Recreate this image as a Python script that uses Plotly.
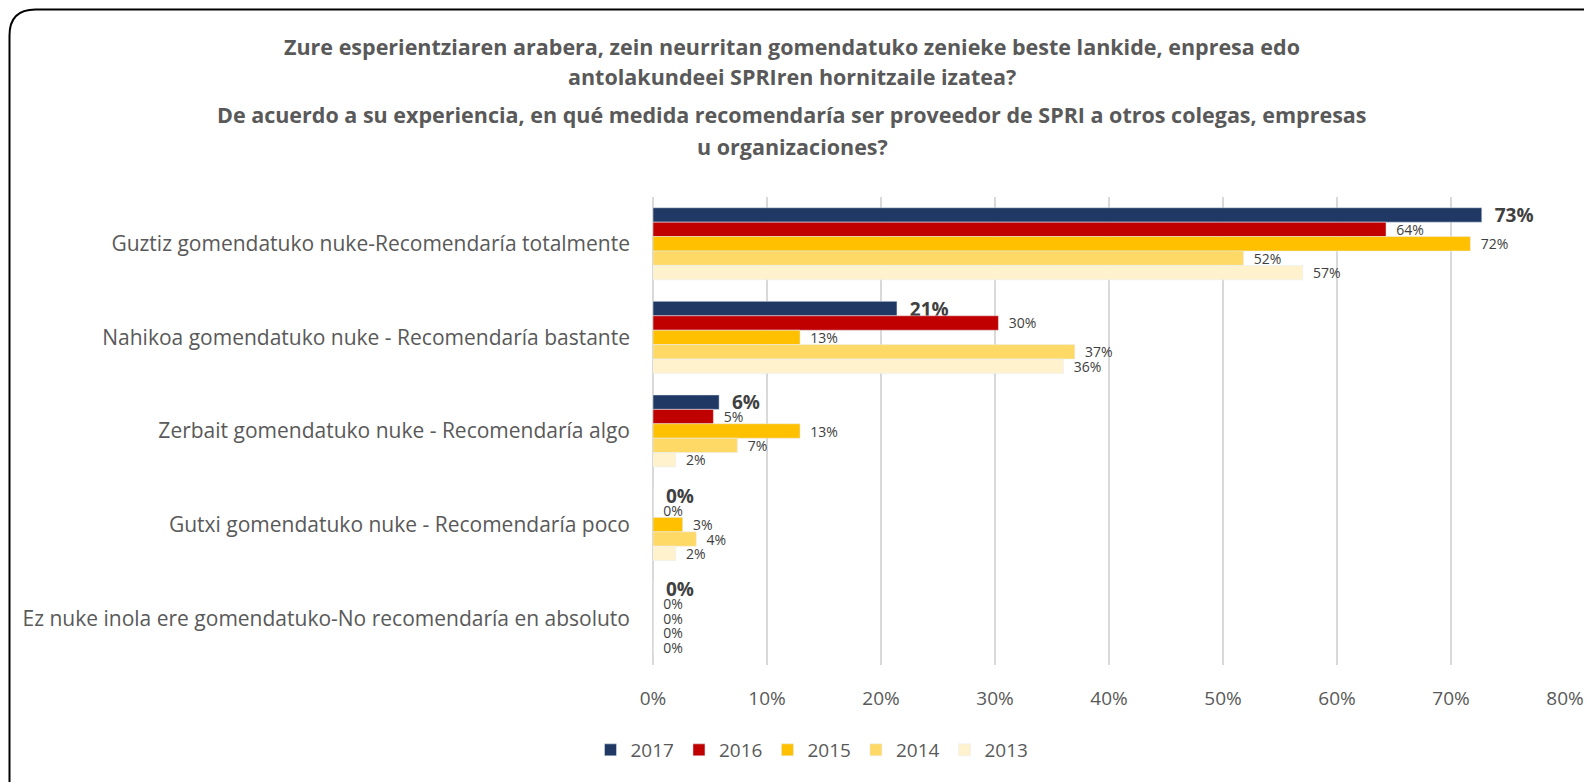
import plotly.graph_objects as go

categories = [
    "Guztiz gomendatuko nuke-Recomendaría totalmente",
    "Nahikoa gomendatuko nuke - Recomendaría bastante",
    "Zerbait gomendatuko nuke - Recomendaría algo",
    "Gutxi gomendatuko nuke - Recomendaría poco",
    "Ez nuke inola ere gomendatuko-No recomendaría en absoluto",
]
years = ["2017", "2016", "2015", "2014", "2013"]
values = {
    "2017": [0.727, 0.214, 0.058, 0.0, 0.0],
    "2016": [0.643, 0.303, 0.053, 0.0, 0.0],
    "2015": [0.717, 0.129, 0.129, 0.026, 0.0],
    "2014": [0.518, 0.370, 0.074, 0.038, 0.0],
    "2013": [0.570, 0.360, 0.020, 0.020, 0.0],
}
colors = {
    "2017": "#1F3864",
    "2016": "#C00000",
    "2015": "#FFC000",
    "2014": "#FFD966",
    "2013": "#FFF2CC",
}

FONT = "Open Sans, sans-serif"
W, H = 1592, 782
OFF = 8  # page body margin
# plot area in page pixels: x 653..1565, y 197..665
L, R, T, B = 653 - OFF, W - (1565 - OFF), 197 - OFF, H - (665 - OFF)
pw, ph = W - L - R, H - T - B


def px(x):
    return (x - OFF - L) / pw


def py(y):
    return (H - B - (y - OFF)) / ph


fig = go.Figure()
for yr in years:
    bold = yr == "2017"
    fig.add_trace(go.Bar(
        y=categories,
        x=values[yr],
        orientation="h",
        name=yr,
        marker=dict(color=colors[yr]),
        text=[f"{v:.0%}" for v in values[yr]],
        textposition="outside",
        constraintext="none",
        textfont=dict(family=FONT, size=19 if bold else 14, color="#404040"),
        # gap between bar end and label, like the original
        texttemplate="\u00a0\u00a0<b>%{text}</b>" if bold else "\u00a0\u00a0%{text}",
        cliponaxis=False,
    ))

# title lines
title_lines = [
    ("Zure esperientziaren arabera, zein neurritan gomendatuko zenieke beste lankide, enpresa edo", 46),
    ("antolakundeei SPRIren hornitzaile izatea?", 76),
    ("De acuerdo a su experiencia, en qué medida recomendaría ser proveedor de SPRI a otros colegas, empresas", 115),
    ("u organizaciones?", 147),
]
for txt, yy in title_lines:
    fig.add_annotation(
        text=f"<b>{txt}</b>", xref="paper", yref="paper",
        x=px(792), y=py(yy), xanchor="center", yanchor="middle",
        showarrow=False, font=dict(family=FONT, size=21.5, color="#595959"),
    )

# rounded frame
r = 26
x0, y0, x1, y1 = 9.5, 9.5, 1620, 808
path = (f"M {px(x0 + r)},{py(y0)} L {px(x1)},{py(y0)} "
        f"M {px(x0 + r)},{py(y0)} Q {px(x0)},{py(y0)} {px(x0)},{py(y0 + r)} "
        f"L {px(x0)},{py(y1 - r)} Q {px(x0)},{py(y1)} {px(x0 + r)},{py(y1)}")
fig.add_shape(type="path", path=path, xref="paper", yref="paper",
              line=dict(color="black", width=2))

fig.update_layout(
    width=W, height=H,
    margin=dict(l=L, r=R, t=T, b=B),
    barmode="group",
    bargap=0.23,
    bargroupgap=0,
    plot_bgcolor="white",
    paper_bgcolor="white",
    font=dict(family=FONT, size=19, color="#595959"),
    showlegend=True,
    legend=dict(orientation="h", x=px(812), y=py(750), xanchor="center", yanchor="middle",
                font=dict(family=FONT, size=19, color="#595959"), traceorder="normal",
                itemwidth=30),
    xaxis=dict(range=[0, 0.8], tickvals=[i / 10 for i in range(9)], tickformat=".0%",
               showgrid=True, gridcolor="#D9D9D9", gridwidth=2, zeroline=True,
               zerolinecolor="#D9D9D9", zerolinewidth=2, showline=False,
               tickfont=dict(family=FONT, size=19, color="#595959"), ticklabelstandoff=20),
    yaxis=dict(autorange="reversed", showgrid=False, showline=False, ticks="",
               tickfont=dict(family=FONT, size=21, color="#595959"), ticklabelstandoff=22),
)

fig.write_html("out.html")
